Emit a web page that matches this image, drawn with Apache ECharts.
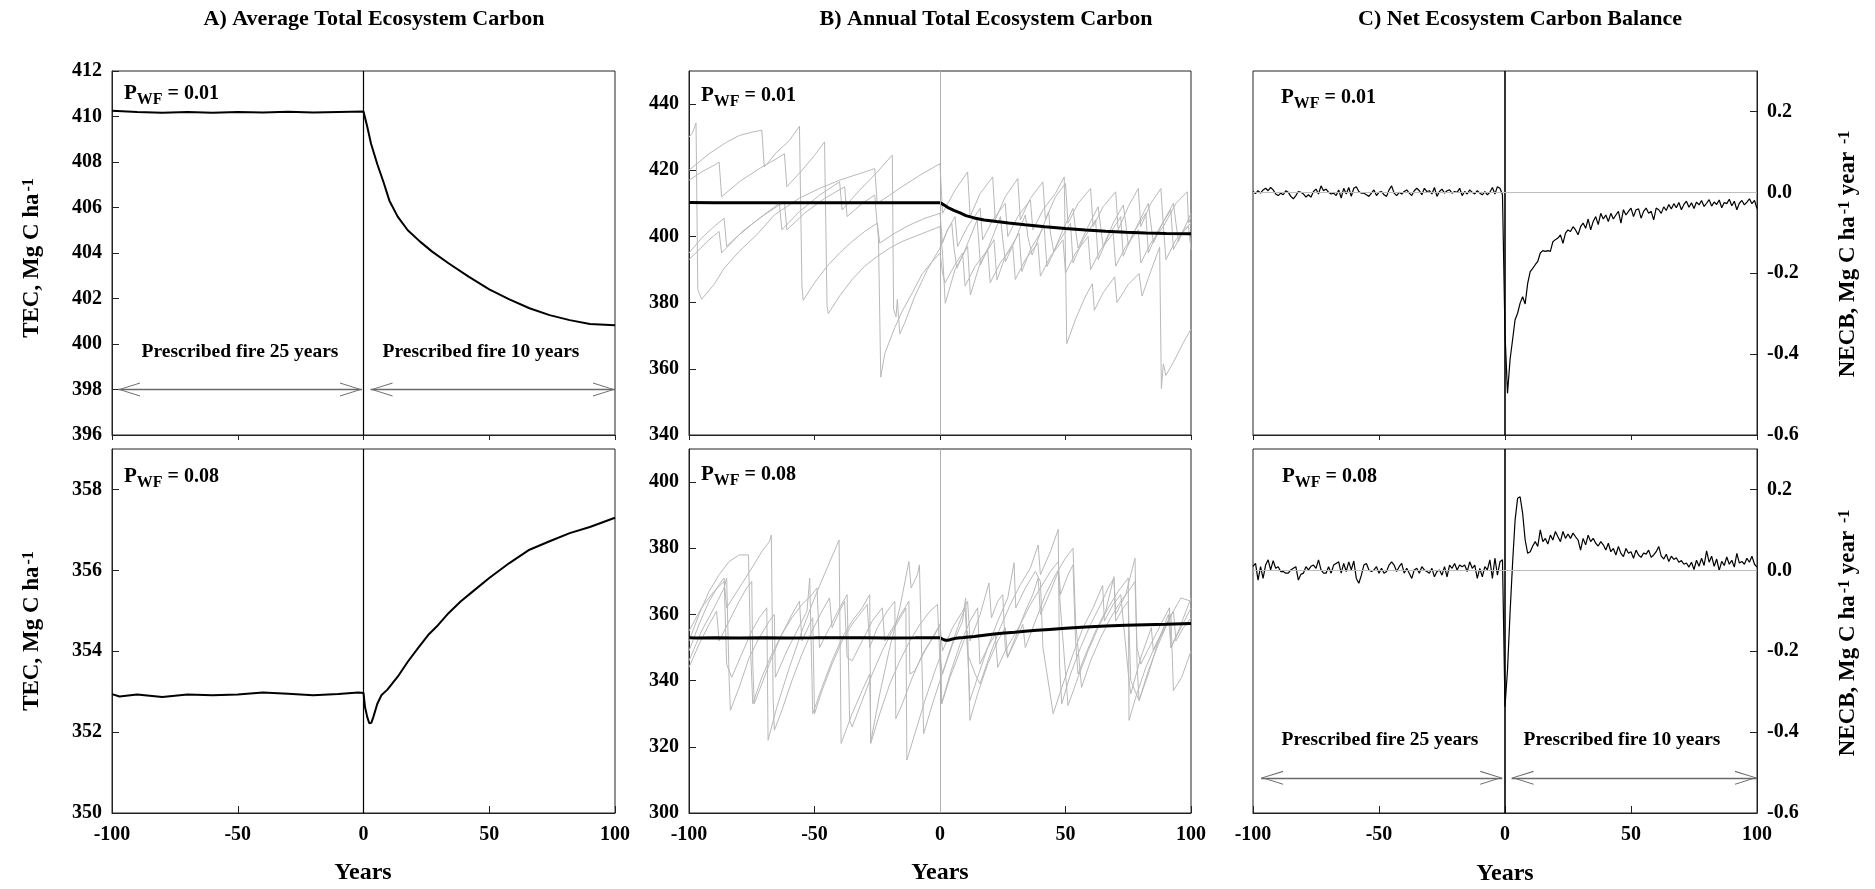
<!DOCTYPE html>
<html>
<head>
<meta charset="utf-8">
<script src="https://cdn.jsdelivr.net/npm/echarts@6/dist/echarts.min.js"></script>
<style>
  html, body { margin: 0; padding: 0; background: #fff; }
  #chart-container { width: 1875px; height: 889px; }
</style>
</head>
<body>
<div id="chart-container"></div>
<script>
// ---- data ----
var startYear = -100;

// A) average total ecosystem carbon (also drawn as the black mean in B)
var aTop = [[-100,410.25],[-90,410.2],[-80,410.17],[-70,410.2],[-60,410.16],[-50,410.2],[-40,410.18],[-30,410.21],[-20,410.18],[-10,410.2],[0,410.22],
  [1.5,409.55],[3,408.8],[5.5,407.9],[8,407.1],[10.3,406.3],[13.6,405.6],[17.6,405.0],[22.5,404.5],[27.3,404.06],[33.8,403.55],
  [41.8,402.96],[50,402.4],[58,401.96],[66,401.57],[74,401.27],[82,401.05],[90,400.88],[100,400.82]];
var aBottom = [[-100,352.94],[-97,352.88],[-90,352.93],[-80,352.87],[-70,352.93],[-60,352.91],[-50,352.93],[-40,352.98],[-30,352.95],[-20,352.91],[-10,352.94],[-2,352.98],[0,352.97],
  [0.6,352.62],[1.5,352.37],[2.3,352.22],[3.1,352.23],[3.9,352.37],[5.5,352.7],[7.1,352.91],[9.5,353.05],[13.6,353.37],[17.6,353.74],[21.6,354.07],
  [25.7,354.4],[29.7,354.65],[33.8,354.94],[38.6,355.23],[43.5,355.48],[50,355.81],[58,356.18],[66,356.51],[74,356.72],[82,356.92],[90,357.07],[100,357.3]];

// B) annual total ecosystem carbon, single runs, P_WF = 0.01
var bTopRun1 = [[-100,430],[-98.5,431.5],[-97.2,434.3],[-96.5,384],[-95,381],[-90,385.5],[-86,390.4],[-80,395.5],[-73,400.5],[-66,406.5],[-56,411.6],[-48,414.5],[-40,417],[-32,419],[-26,420.5],[-25,410],[-20,412.5],[-16,414.6],[-8,418.5],[0,422],
  [1,407],[6,414],[11,419.5],[12,406],[16,413],[21,418],[22,405],[26,412],[31,417.5],[32,405],[36,411.5],[41,416.5],[42,405],[46,412],[50,416],[51,404],[55,410],[60,414.5],[61,403],[65,409],[70,413.5],[71,402],[75,409],[79,414.5],[80,403],[84,410],[88,414.5],[89,403],[94,410],[98.5,413.5],[99,404],[100,406]];
var bTopRun2 = [[-100,420],[-92,425],[-85,428.5],[-80,430.5],[-75,431.5],[-71,432.1],[-70,421],[-65,425.5],[-60,429],[-56,433.3],[-55,385],[-54.5,380.7],[-50,386],[-45,391],[-40,395],[-35,398.5],[-30,401.5],[-25,404],[-24,398],[-18,401],[-12,403.5],[-6,405.5],[0,407],
  [1,398],[3,402],[4.7,404],[5.5,397],[6.7,390.4],[10,396],[14.8,405],[15.5,398],[16.1,391.4],[20,398],[24.1,406],[25,399],[26.1,392.4],[30,399],[34,406.5],[35,400],[36.7,394.4],[40,401],[43.3,407.5],[44,401],[45.3,395.4],[49,402],[53,408.5],[54,402],[55,396.5],[59,403],[63,409],[64,403],[65,397],[69,404],[73,409.5],[74,404],[75,397.5],[79,404],[83,410],[84,404],[85,398],[89,404.5],[93,410],[94,404],[95,398.5],[100,407]];
var bTopRun3 = [[-100,417],[-95,419.5],[-90,421.5],[-88,422.5],[-87,412],[-80,416.5],[-72,420.5],[-64,424],[-62,425],[-61,415],[-55,420],[-50,424.5],[-46,428.6],[-45,379],[-44.5,376.7],[-40,382],[-35,387],[-30,391],[-25,394],[-20,396.5],[-15,398.5],[-10,400],[-5,401.5],[0,403],
  [1,395],[2.1,379.8],[6,390],[11,397],[12.1,382.3],[16,392],[21.5,399],[22.7,386.8],[26,394],[31.5,401],[32.6,389.4],[36,396],[41.5,403],[42.6,390.9],[47,398],[52,404],[53,392],[57,399],[62,405],[63,393],[67,400],[72,406],[73,394],[77,401],[82,407],[83,395],[87,402],[92,408],[93,396],[97,402],[100,404]];
var bTopRun4 = [[-100,395],[-95,399.5],[-90,403],[-86,405.5],[-85,397],[-78,402],[-70,406.5],[-62,410.5],[-61,402],[-54,407],[-46,411.5],[-38,415],[-37,406],[-31,410],[-26,412.5],[-24.5,398.9],[-23.6,357.5],[-22,364.6],[-18,372.5],[-15,377.5],[-11,383],[-7,388.8],[-3,392.5],[0,395],
  [1,389],[2,386],[6,391.5],[9,395],[10,385],[14,391],[19,396],[20,386],[24,392],[29,397],[30,387],[34,393],[39,398],[40,388],[44,394],[49,399],[50,389],[54,395],[59,400],[60,390],[64,396],[69,401],[70,391],[74,397],[79,402],[80,392],[84,398],[89,403],[90,393],[94,399],[99,403],[100,396]];
var bTopRun5 = [[-100,393],[-96,396],[-92,399],[-88,401.5],[-87,395],[-80,400.5],[-72,405.5],[-64,410],[-63,402],[-56,407.5],[-48,412.5],[-40,416.5],[-39,408],[-32,414],[-25,419.5],[-19,424.6],[-18.5,378],[-17.5,375.7],[-17,381],[-16,370.6],[-14,374],[-10,382],[-5,390],[0,396.5],
  [3,402],[6,406],[7,397],[11,403],[16,408.5],[17,399],[21,405],[26,410],[27,400],[31,406],[36,411],[37,402],[41,408],[46,413],[49.5,418],[50.5,367.6],[54,375],[58,382],[60.7,385.7],[61.5,377.7],[65,383],[69.6,387.8],[70.5,380],[75,385.5],[79.3,388.8],[80.5,382],[84,389.5],[87.5,396.8],[88.2,354],[89,361.5],[90,358],[93,362],[97,368],[100,372]];

// B) single runs, P_WF = 0.08
var bBotRun1 = [[-100,346],[-95,355],[-90,362],[-86,368],[-85,371],[-84,340],[-83.5,331],[-80,338],[-76,347],[-72,353],[-68,358],[-66,360],[-65.6,341],[-61,349],[-57,355],[-53,361],[-51.9,371],[-51,340],[-50.7,330],[-47,338],[-43,346],[-39,353],[-35,358],[-31,362],[-28,366],[-27.6,321],[-24,330],[-20,339],[-16,346],[-12,352],[-8,357],[-4,361],[-1,363],
  [0.7,333],[4,341],[8,349],[11,355],[11.9,328],[15,336],[19,345],[23,352],[26,356],[26.9,347],[30,353],[34,361],[37,366],[39.1,371],[40,360],[44,367],[47.1,373],[48,362],[51,332.5],[55,341],[59,349],[63,356],[67,362],[71,367],[75,371],[75.3,328],[78,335],[82,344],[86,351],[90,357],[93,361],[94,352],[97,356],[100,359]];
var bBotRun2 = [[-100,352],[-96,360],[-92,367],[-88,372],[-84,376],[-80,378],[-76.3,378],[-75.5,350],[-74.6,333],[-71,341],[-67,348],[-63,354],[-59,359],[-55,363],[-51,366],[-49,368],[-48,350],[-44,356],[-40,362],[-37,366],[-36,328],[-35,326],[-31,334],[-27,342],[-23,349],[-19,355],[-15,360],[-13.6,362],[-13.2,316],[-10,324],[-6,334],[-2,343],[0,347],
  [1,342],[5,351],[9,358],[10.2,365],[11,348],[14,342],[15.9,339],[20,348],[24,356],[28,363],[32,369],[36,374],[39.1,381],[40,372],[44,379],[47.1,385.7],[47.6,345],[48.5,333],[52,342],[56,350],[60,357],[64,363],[67,368],[69.3,371],[70,360],[74,366],[77.7,377],[78.5,345],[79.3,334],[83,343],[87,351],[91,358],[92,360],[93,337],[96.3,341],[100,349]];
var bBotRun3 = [[-100,355],[-95,362],[-90,367],[-86,370],[-85,362],[-80,368],[-75,374],[-71,379],[-68,382],[-67.2,384],[-66.5,335],[-66,325],[-63,331],[-59,340],[-55,348],[-51,355],[-47,361],[-44,365],[-43,356],[-40,361],[-38,364],[-37,347],[-35,346],[-31,352],[-27,358],[-23,362],[-22,352],[-18,357],[-14,362],[-12.4,364],[-12,342],[-10,343],[-6,349],[-2,354],[0,357],
  [1,349],[5,356],[9,361],[11,364],[12,352],[16,360],[19.5,369.5],[20.5,359],[23,364],[25,366],[26,350],[26.9,347],[30,352],[33,357],[34,350],[38,358],[42,366],[46,372],[50,377],[53,380],[54,358],[56.4,338],[60,346],[64,353],[68,359],[72,364],[76,368],[77.7,370],[78.5,350],[80,345],[84,351],[88,357],[91.4,362],[92,350],[95,355],[100,365]];
var bBotRun4 = [[-100,349],[-96,357],[-92,364],[-88,369],[-86,371],[-85,345],[-83,341],[-79,348],[-75,355],[-72,359],[-69,362],[-68.5,322],[-65,332],[-60,344],[-55,355],[-50,365],[-45,374],[-40.2,382.5],[-39.4,321],[-35,330],[-31,337],[-28,342],[-27.6,321.4],[-24,336],[-20,350],[-16,362],[-12.4,376],[-11.5,368],[-9,372],[-8.2,375],[-7.2,345],[-6.5,324],[-3,333],[0,340],
  [3,347],[7,356],[10,362],[11,349],[11.9,334],[15,341],[19,350],[23,358],[27,365],[29.5,375.6],[30.2,362],[34,368],[38,373],[40,370],[41,350],[45.1,330],[49,339],[53,348],[57,356],[61,362],[64.8,368.8],[65.5,358],[69,363],[72,366],[75.3,340],[76,336],[80,347],[84.2,356],[85,349],[89,355],[93,361],[96,365],[100,364]];
var bBotRun5 = [[-100,344],[-96,351],[-92,357],[-89,361],[-88,352],[-84,358],[-80,364],[-77,368],[-75,370],[-74.6,345],[-74,333],[-71,339],[-67,347],[-63,354],[-59,360],[-56,364],[-55,352],[-52,357],[-50.7,359],[-50,330],[-47,337],[-43,345],[-39,352],[-35,357],[-31,361],[-29,363],[-28,350],[-25,356],[-21,361],[-18,364],[-17.6,328.5],[-15,333],[-11,341],[-7,348],[-3,353],[0,357],
  [0.7,333.2],[4,342],[8,351],[12,358],[15,362],[15.9,345],[19,350],[22,354],[23,344],[26,349],[29,353],[32,357],[36,363],[40,368],[44,373],[47.1,376],[48,366],[51,372],[53,375],[54,352],[55,342],[58,348],[62,355],[66,361],[69.3,371.4],[70,358],[73,362],[75,364],[76,340],[79.3,334],[83,342],[87,352],[91,360],[92,350],[96,356],[100,362]];

// C) net ecosystem carbon balance, one value per year from -100 to 100
var cTop = [
  0.002,-0.003,0.004,-0.002,0.006,0.010,0.004,0.012,0.006,-0.004,
  -0.008,-0.002,-0.006,0.004,0.000,-0.010,-0.016,-0.008,0.002,0.000,
  -0.004,-0.012,-0.006,-0.012,0.002,0.008,-0.004,0.016,0.004,0.008,
  0.000,-0.004,-0.002,-0.008,0.006,-0.014,0.010,-0.004,0.012,-0.010,
  0.010,0.014,0.002,-0.002,-0.002,-0.006,-0.010,-0.002,0.006,-0.008,
  0.000,0.002,-0.006,-0.010,0.006,0.016,-0.002,-0.008,0.000,-0.004,
  0.002,0.006,-0.002,-0.008,0.004,0.010,0.004,-0.006,0.010,0.002,
  0.004,-0.004,0.012,-0.010,0.002,0.008,-0.002,0.004,0.006,-0.002,
  0.002,0.000,0.010,-0.008,0.002,-0.004,0.006,0.000,-0.004,0.004,
  -0.002,-0.006,0.002,-0.006,0.000,0.012,-0.004,0.014,0.010,-0.006,
  -0.350,
  -0.497,-0.414,-0.365,-0.315,-0.299,-0.274,-0.258,-0.276,-0.225,-0.196,
  -0.188,-0.179,-0.171,-0.150,-0.144,-0.146,-0.144,-0.146,-0.122,-0.117,
  -0.113,-0.105,-0.126,-0.101,-0.093,-0.097,-0.085,-0.093,-0.105,-0.085,
  -0.076,-0.089,-0.066,-0.093,-0.072,-0.060,-0.080,-0.052,-0.066,-0.056,
  -0.072,-0.052,-0.066,-0.056,-0.047,-0.076,-0.043,-0.056,-0.047,-0.039,
  -0.060,-0.043,-0.041,-0.064,-0.047,-0.039,-0.052,-0.047,-0.068,-0.039,
  -0.043,-0.052,-0.036,-0.045,-0.030,-0.041,-0.028,-0.038,-0.025,-0.043,
  -0.030,-0.022,-0.037,-0.026,-0.040,-0.024,-0.031,-0.020,-0.035,-0.027,
  -0.018,-0.034,-0.024,-0.030,-0.019,-0.038,-0.025,-0.028,-0.017,-0.033,
  -0.022,-0.043,-0.027,-0.020,-0.031,-0.024,-0.016,-0.028,-0.020,-0.040
];
var cBottom = [
  0.010,0.017,-0.024,0.009,-0.020,0.013,0.026,0.001,0.024,0.005,
  0.009,-0.003,-0.003,-0.007,-0.007,0.001,0.005,0.009,-0.024,-0.010,
  -0.007,0.009,0.001,0.010,0.013,0.005,0.026,0.001,-0.007,-0.007,
  0.009,-0.007,0.013,0.017,0.021,-0.007,0.017,-0.003,0.021,0.001,
  0.023,-0.020,-0.032,-0.012,0.013,0.017,0.001,-0.003,0.001,0.009,
  -0.007,0.005,-0.007,-0.003,0.013,0.021,0.013,-0.003,0.009,0.017,
  -0.007,0.005,-0.007,-0.020,0.001,0.005,-0.007,0.009,0.001,-0.003,
  -0.007,0.005,-0.016,-0.003,0.001,-0.012,0.009,-0.016,0.013,0.005,
  0.017,0.001,0.013,0.009,0.013,-0.003,0.021,0.005,0.013,-0.020,
  0.005,-0.016,0.009,0.001,0.026,-0.020,0.030,-0.012,0.021,0.026,
  -0.337,
  -0.246,-0.106,0.017,0.124,0.178,0.182,0.141,0.075,0.042,0.046,
  0.060,0.071,0.059,0.100,0.071,0.079,0.065,0.087,0.075,0.096,
  0.083,0.071,0.096,0.079,0.090,0.079,0.092,0.083,0.075,0.050,
  0.079,0.063,0.087,0.071,0.079,0.067,0.060,0.071,0.063,0.050,
  0.067,0.046,0.054,0.038,0.059,0.042,0.034,0.054,0.042,0.046,
  0.030,0.050,0.038,0.032,0.043,0.040,0.050,0.032,0.038,0.046,
  0.059,0.035,0.028,0.040,0.022,0.035,0.027,0.031,0.020,0.024,
  0.015,0.018,0.008,0.020,0.002,0.025,0.010,0.030,0.012,0.048,
  0.020,0.035,0.010,0.028,0.000,0.022,0.012,0.033,0.015,0.025,
  0.008,0.042,0.018,0.022,0.015,0.030,0.020,0.035,0.015,0.008
];

var titles = ['A) Average Total Ecosystem Carbon', 'B) Annual Total Ecosystem Carbon', 'C) Net Ecosystem Carbon Balance'];
var pwfLabels = ['0.01', '0.08'];
var periodLabels = ['Prescribed fire 25 years', 'Prescribed fire 10 years'];

// ---- chart ----
var FONT = '"Liberation Serif", "Times New Roman", serif';
var dom = document.getElementById('chart-container');
var myChart = echarts.init(dom, null, { renderer: 'canvas' });

function byYear(values) {
  return values.map(function (v, i) { return [startYear + i, v]; });
}

var grids = [
  { left: 112, top: 71, width: 503, height: 364 },
  { left: 112, top: 449, width: 503, height: 364 },
  { left: 689, top: 71, width: 502, height: 364 },
  { left: 689, top: 449, width: 502, height: 364 },
  { left: 1253, top: 71, width: 504, height: 364 },
  { left: 1253, top: 449, width: 504, height: 364 }
].map(function (g) {
  return Object.assign({ show: true, borderColor: '#222', borderWidth: 1, backgroundColor: '#fff' }, g);
});

var xAxes = grids.map(function (g, i) {
  var bottomRow = i % 2 === 1;
  return {
    gridIndex: i, type: 'value', min: -100, max: 100, interval: 50,
    axisLine: { onZero: false, lineStyle: { color: '#222' } },
    axisTick: { inside: bottomRow, length: bottomRow ? 7 : 5, lineStyle: { color: '#222' } },
    axisLabel: { show: bottomRow, color: '#000', fontFamily: FONT, fontWeight: 'bold', fontSize: 20, margin: 12 },
    splitLine: { show: false }
  };
});

var yRanges = [[396, 412, 2], [350, 359, 2], [340, 450, 20], [300, 410, 20], [-0.6, 0.3, 0.2], [-0.6, 0.3, 0.2]];
var yAxes = yRanges.map(function (r, i) {
  var right = i >= 4;
  var steps = (r[1] - r[0]) / r[2];
  return {
    gridIndex: i, type: 'value', min: r[0], max: r[1], interval: r[2],
    position: right ? 'right' : 'left',
    axisLine: { onZero: false, lineStyle: { color: '#222' } },
    axisTick: { inside: true, length: 7, lineStyle: { color: '#222' } },
    axisLabel: {
      color: '#000', fontFamily: FONT, fontWeight: 'bold', fontSize: 20, margin: 10,
      showMaxLabel: Math.abs(steps - Math.round(steps)) < 1e-6,
      formatter: right ? function (v) { return v.toFixed(1); } : null
    },
    splitLine: { show: false }
  };
});

function lineSeries(idx, data, color, width, extra) {
  return Object.assign({
    type: 'line', xAxisIndex: idx, yAxisIndex: idx, data: data,
    showSymbol: false, symbol: 'none', silent: true, animation: false,
    lineStyle: { color: color, width: width }
  }, extra || {});
}

function zeroLine(color, width, horizontal) {
  var data = [{ xAxis: 0, lineStyle: { color: color, width: width, type: 'solid' } }];
  if (horizontal) data.push({ yAxis: 0, lineStyle: { color: '#bdbdbd', width: 1.2, type: 'solid' } });
  return { markLine: { symbol: 'none', silent: true, animation: false, label: { show: false }, data: data } };
}

var chevron = 'path://M5,-20L5.02,-20L5,-19.98Z M5,0L10,20L9.2,20L5,2.6L0.8,20L0,20Z';
function arrowSeries(idx, y, spans) {
  return lineSeries(idx, [], '#000', 1, {
    clip: false,
    markLine: {
      silent: true, animation: false, symbol: [chevron, chevron], symbolSize: [14, 44],
      label: { show: false },
      lineStyle: { color: '#6a6a6a', width: 1.3, type: 'solid' },
      data: spans.map(function (s) { return [{ coord: [s[0], y] }, { coord: [s[1], y] }]; })
    }
  });
}

var grayRun = '#b9b9b9';
var series = [
  lineSeries(0, aTop, '#000', 2, zeroLine('#000', 1.2)),
  arrowSeries(0, 398, [[-97.6, -0.6], [2.8, 100]]),
  lineSeries(1, aBottom, '#000', 2, zeroLine('#000', 1.2)),
  lineSeries(2, bTopRun1, grayRun, 1),
  lineSeries(2, bTopRun2, grayRun, 1),
  lineSeries(2, bTopRun3, grayRun, 1),
  lineSeries(2, bTopRun4, grayRun, 1),
  lineSeries(2, bTopRun5, grayRun, 1),
  lineSeries(2, aTop, '#000', 3, zeroLine('#b0b0b0', 1)),
  lineSeries(3, bBotRun1, grayRun, 1),
  lineSeries(3, bBotRun2, grayRun, 1),
  lineSeries(3, bBotRun3, grayRun, 1),
  lineSeries(3, bBotRun4, grayRun, 1),
  lineSeries(3, bBotRun5, grayRun, 1),
  lineSeries(3, aBottom, '#000', 3, zeroLine('#b0b0b0', 1)),
  lineSeries(4, byYear(cTop), '#000', 1.2, zeroLine('#000', 1.6, true)),
  lineSeries(5, byYear(cBottom), '#000', 1.2, zeroLine('#000', 1.6, true)),
  arrowSeries(5, -0.513, [[-96.8, -1.1], [2.6, 100]])
];

function txt(x, y, text, size, align, rot) {
  return {
    type: 'text', x: x, y: y, rotation: rot || 0, silent: true, z: 100,
    style: {
      text: text, fill: '#000', font: 'bold ' + size + 'px ' + FONT,
      align: align || 'center', verticalAlign: 'middle',
      textAlign: align || 'center', textVerticalAlign: 'middle'
    }
  };
}
function richTxt(x, y, text, rich, align, rot) {
  var el = txt(x, y, text, 20, align, rot);
  el.style.rich = rich;
  return el;
}

var pwfRich = {
  p: { fontFamily: FONT, fontWeight: 'bold', fontSize: 21, verticalAlign: 'top', lineHeight: 21 },
  s: { fontFamily: FONT, fontWeight: 'bold', fontSize: 16, verticalAlign: 'top', lineHeight: 16, padding: [8, 0, 0, 0] },
  e: { fontFamily: FONT, fontWeight: 'bold', fontSize: 20, verticalAlign: 'top', lineHeight: 21 }
};
function pwf(x, y, v) {
  return richTxt(x, y, '{p|P}{s|WF}{e| = ' + v + '}', pwfRich, 'left');
}
var supRich = {
  m: { fontFamily: FONT, fontWeight: 'bold', fontSize: 23, verticalAlign: 'top', lineHeight: 25 },
  s: { fontFamily: FONT, fontWeight: 'bold', fontSize: 16, verticalAlign: 'top', lineHeight: 16, padding: [0, 0, 0, 2] }
};
var tecName = '{m|TEC, Mg C ha}{s|-1}';
var necbName = '{m|NECB, Mg C ha}{s|-1}{m| year }{s|-1}';

var graphics = [
  txt(374, 19, titles[0], 22),
  txt(986, 19, titles[1], 22),
  txt(1520, 19, titles[2], 22),
  txt(363, 873, 'Years', 24),
  txt(940, 873, 'Years', 24),
  txt(1505, 874, 'Years', 24),
  richTxt(33, 258, tecName, supRich, 'center', Math.PI / 2),
  richTxt(33, 631, tecName, supRich, 'center', Math.PI / 2),
  richTxt(1849, 254, necbName, supRich, 'center', Math.PI / 2),
  richTxt(1849, 633, necbName, supRich, 'center', Math.PI / 2),
  pwf(124, 94, pwfLabels[0]),
  pwf(124, 477, pwfLabels[1]),
  pwf(701, 96, pwfLabels[0]),
  pwf(701, 475, pwfLabels[1]),
  pwf(1281, 98, pwfLabels[0]),
  pwf(1282, 477, pwfLabels[1]),
  txt(240, 352, periodLabels[0], 19.5),
  txt(481, 352, periodLabels[1], 19.5),
  txt(1380, 740, periodLabels[0], 19.5),
  txt(1622, 740, periodLabels[1], 19.5)
];

var option = {
  animation: false,
  backgroundColor: '#fff',
  grid: grids,
  xAxis: xAxes,
  yAxis: yAxes,
  series: series,
  graphic: graphics
};

myChart.setOption(option);
window.addEventListener('resize', myChart.resize);
</script>
</body>
</html>
